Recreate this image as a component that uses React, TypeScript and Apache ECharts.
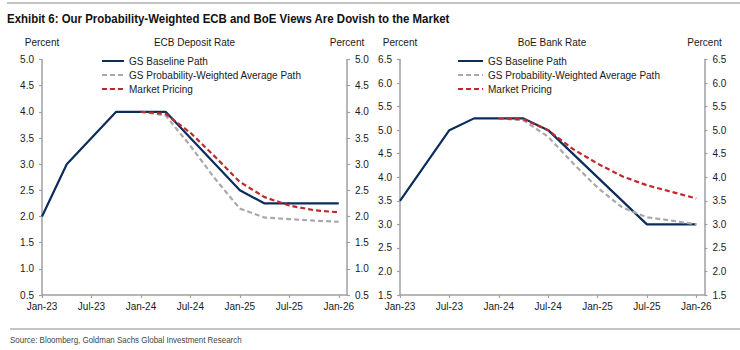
import React, { useEffect, useRef } from "react";
import * as echarts from "echarts";

const titleText = "Exhibit 6: Our Probability-Weighted ECB and BoE Views Are Dovish to the Market";
const sourceText = "Source: Bloomberg, Goldman Sachs Global Investment Research";
const seriesNames = ["GS Baseline Path", "GS Probability-Weighted Average Path", "Market Pricing"];
const xTickLabels = ["Jan-23", "Jul-23", "Jan-24", "Jul-24", "Jan-25", "Jul-25", "Jan-26"];

// ECB Deposit Rate
const ecbBaselineDates = ["2023-01", "2023-04", "2023-10", "2024-04", "2025-01", "2025-04", "2026-01"];
const ecbBaselineValues = [2.0, 3.0, 4.0, 4.0, 2.5, 2.25, 2.25];
const ecbForecastDates = ["2024-01", "2024-04", "2024-07", "2024-10", "2025-01", "2025-04", "2025-07", "2025-10", "2026-01"];
const ecbProbWeightedValues = [4.0, 3.93, 3.35, 2.72, 2.15, 1.98, 1.95, 1.92, 1.9];
const ecbMarketValues = [4.0, 3.96, 3.6, 3.14, 2.66, 2.37, 2.21, 2.12, 2.08];

// BoE Bank Rate
const boeBaselineDates = ["2023-01", "2023-07", "2023-10", "2024-04", "2024-07", "2025-07", "2026-01"];
const boeBaselineValues = [3.5, 5.0, 5.25, 5.25, 5.0, 3.0, 3.0];
const boeForecastDates = ["2024-01", "2024-04", "2024-07", "2024-10", "2025-01", "2025-04", "2025-07", "2025-10", "2026-01"];
const boeProbWeightedValues = [5.25, 5.21, 4.86, 4.3, 3.78, 3.36, 3.15, 3.08, 3.0];
const boeMarketValues = [5.25, 5.23, 5.0, 4.6, 4.29, 4.02, 3.83, 3.69, 3.55];

const monthIndex = (d: string) => {
  const [y, m] = d.split("-").map(Number);
  return (y - 2023) * 12 + (m - 1);
};
const pairs = (dates: string[], vals: number[]) => dates.map((d, i) => [monthIndex(d), vals[i]]);

const NAVY = "#0c2d5c";
const GREY = "#a9a9a9";
const RED = "#c0282e";
const AXIS = "#a0a0a0";
const TEXT = "#1a1a1a";
const FONT = "'Liberation Sans', Arial, sans-serif";
const NARROW = "'Liberation Sans Narrow', 'Liberation Sans', Arial, sans-serif";

export default function App() {
  const ref = useRef<HTMLDivElement>(null);
  useEffect(() => {
    if (!ref.current) return;
    const chart = echarts.init(ref.current, undefined, { renderer: "svg" });
    const tickVals = xTickLabels.map((_, i) => i * 6);
    const mkX = (gridIndex: number) => ({
      type: "value",
      gridIndex,
      min: 0,
      max: 37,
      interval: 6,
      axisLine: { show: true, lineStyle: { color: AXIS, width: 1.5 } },
      axisTick: { show: true, length: 3, customValues: tickVals, lineStyle: { color: AXIS, width: 1.2 } },
      axisLabel: {
        customValues: tickVals,
        formatter: (v: number) => xTickLabels[Math.round(v / 6)] ?? "",
        fontSize: 10,
        color: TEXT,
        fontFamily: FONT,
        margin: 6,
      },
      splitLine: { show: false },
    });
    const mkY = (gridIndex: number, position: string, min: number, max: number) => ({
      type: "value",
      gridIndex,
      position,
      min,
      max,
      interval: 0.5,
      name: "Percent",
      nameLocation: "end",
      nameGap: 12,
      nameTextStyle: { fontSize: 10, color: TEXT, fontFamily: FONT },
      axisLine: { show: true, lineStyle: { color: AXIS, width: 1.5 } },
      axisTick: { show: true, length: 3, lineStyle: { color: AXIS, width: 1.2 } },
      axisLabel: {
        formatter: (v: number) => v.toFixed(1),
        fontSize: 10,
        color: TEXT,
        fontFamily: FONT,
        margin: 8,
      },
      splitLine: { show: false },
    });
    const line = (name: string, data: number[][], idx: number, color: string, dashed: boolean) => ({
      type: "line",
      name,
      xAxisIndex: idx,
      yAxisIndex: idx * 2,
      data,
      symbol: "none",
      lineStyle: { color, width: 2.2, type: dashed ? [5, 3] : "solid" },
      itemStyle: { color },
      z: dashed ? 3 : 2,
    });
    const legend = (left: number, itemWidth: number) => ({
      orient: "vertical",
      left,
      top: 51,
      itemWidth,
      itemHeight: 9,
      itemGap: 4,
      data: seriesNames,
      itemStyle: { opacity: 0 },
      textStyle: { fontSize: 10, color: TEXT, fontFamily: FONT },
      selectedMode: false,
    });
    chart.setOption({
      animation: false,
      backgroundColor: "#fff",
      grid: [
        { left: 42, width: 305, top: 59.5, height: 235.5 },
        { left: 400, width: 304.5, top: 59.5, height: 235.5 },
      ],
      xAxis: [mkX(0), mkX(1)],
      yAxis: [mkY(0, "left", 0.5, 5.0), mkY(0, "right", 0.5, 5.0), mkY(1, "left", 1.5, 6.5), mkY(1, "right", 1.5, 6.5)],
      legend: [legend(96, 22), legend(452, 25)],
      series: [
        line(seriesNames[0], pairs(ecbBaselineDates, ecbBaselineValues), 0, NAVY, false),
        line(seriesNames[1], pairs(ecbForecastDates, ecbProbWeightedValues), 0, GREY, true),
        line(seriesNames[2], pairs(ecbForecastDates, ecbMarketValues), 0, RED, true),
        line(seriesNames[0], pairs(boeBaselineDates, boeBaselineValues), 1, NAVY, false),
        line(seriesNames[1], pairs(boeForecastDates, boeProbWeightedValues), 1, GREY, true),
        line(seriesNames[2], pairs(boeForecastDates, boeMarketValues), 1, RED, true),
      ],
      graphic: [
        { type: "line", shape: { x1: 7, y1: 3, x2: 740, y2: 3 }, style: { stroke: "#b0b0b0", lineWidth: 1.5 } },
        { type: "line", shape: { x1: 10, y1: 329, x2: 740, y2: 329 }, style: { stroke: "#b0b0b0", lineWidth: 1.5 } },
        {
          type: "text",
          x: 7,
          y: 18,
          scaleX: 0.955,
          style: { text: titleText, font: `bold 12px ${NARROW}`, fill: "#111", textVerticalAlign: "middle" },
        },
        {
          type: "text",
          x: 194.5,
          y: 42,
          style: { text: "ECB Deposit Rate", font: `10px ${FONT}`, fill: TEXT, textAlign: "center", textVerticalAlign: "middle" },
        },
        {
          type: "text",
          x: 552,
          y: 42,
          style: { text: "BoE Bank Rate", font: `10px ${FONT}`, fill: TEXT, textAlign: "center", textVerticalAlign: "middle" },
        },
        {
          type: "text",
          x: 10,
          y: 340,
          scaleX: 0.885,
          style: { text: sourceText, font: `9px ${NARROW}`, fill: "#444", textVerticalAlign: "middle" },
        },
      ],
    });
    return () => chart.dispose();
  }, []);
  return <div ref={ref} style={{ position: "fixed", left: 0, top: 0, width: 740, height: 350 }} />;
}
